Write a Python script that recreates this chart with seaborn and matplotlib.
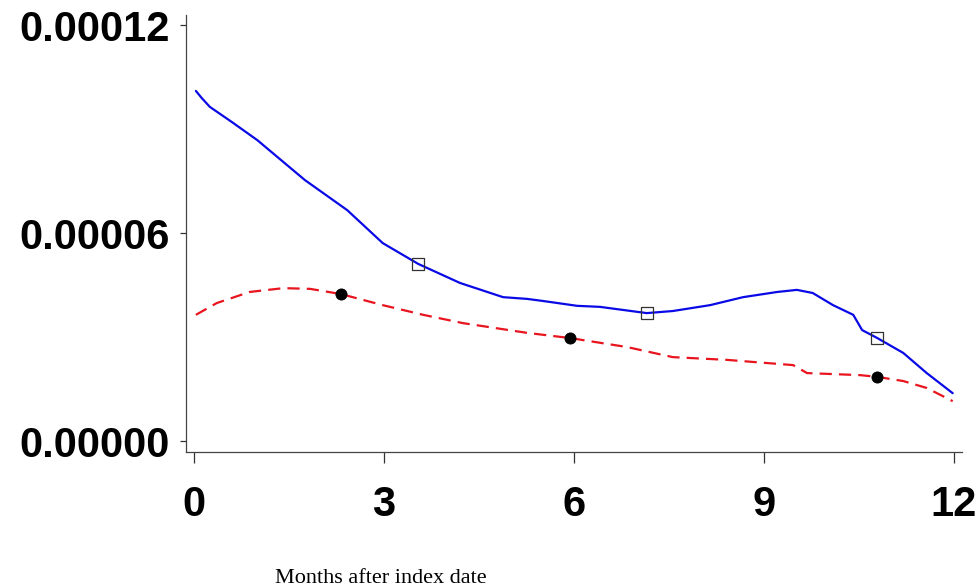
import matplotlib
matplotlib.use('Agg')
import matplotlib.pyplot as plt
import seaborn as sns
import numpy as np

# Curve values (months, rate)
blue_months = [0.03, 0.12, 0.25, 0.6, 1.0, 1.75, 2.42, 2.98, 3.54, 4.20, 4.88, 5.26, 5.51, 6.05,
               6.41, 7.15, 7.56, 8.15, 8.67, 9.21, 9.52, 9.77, 10.09, 10.41, 10.55,
               10.79, 11.20, 11.57, 11.98]
blue_vals = [10.10, 9.90, 9.64, 9.20, 8.68, 7.53, 6.66, 5.71, 5.11, 4.56, 4.15, 4.10, 4.04, 3.90,
             3.87, 3.69, 3.75, 3.92, 4.15, 4.30, 4.36, 4.27, 3.92, 3.64, 3.20,
             2.97, 2.54, 1.96, 1.38]

red_months = [0.03, 0.36, 0.88, 1.41, 1.83, 2.32, 2.98, 3.62, 4.25, 5.26, 5.94, 6.84,
              7.56, 8.42, 9.46, 9.68, 10.52, 10.79, 11.20, 11.57, 11.98]
red_vals = [3.64, 3.98, 4.30, 4.41, 4.39, 4.24, 3.92, 3.64, 3.40, 3.12, 2.97, 2.71,
            2.42, 2.34, 2.19, 1.96, 1.90, 1.85, 1.73, 1.53, 1.15]

# marker positions on each curve
blue_mark_months = [3.54, 7.15, 10.79]
blue_mark_vals = [5.11, 3.69, 2.97]
red_mark_months = [2.32, 5.94, 10.79]
red_mark_vals = [4.24, 2.97, 1.85]

x_ticks = [0, 3, 6, 9, 12]
y_ticks = [0, 0.00006, 0.00012]
y_tick_labels = ['0.00000', '0.00006', '0.00012']

scale = 1e-5
blue_y = np.array(blue_vals) * scale
red_y = np.array(red_vals) * scale

sns.set_style('ticks')
plt.rcParams['font.family'] = ['Liberation Sans', 'DejaVu Sans']

fig = plt.figure(figsize=(9.76, 5.87), dpi=100)
ax = fig.add_axes([186 / 976, (587 - 452) / 587, (962 - 186) / 976, (452 - 15) / 587])

sns.lineplot(x=blue_months, y=blue_y, ax=ax, color='#0a0ae6', linewidth=1.6)
sns.lineplot(x=red_months, y=red_y, ax=ax, color='#e8141e', linewidth=1.6,
             linestyle=(0, (5.5, 3.2)))
sns.scatterplot(x=blue_mark_months, y=np.array(blue_mark_vals) * scale, ax=ax,
                marker='s', s=75, facecolor='none', edgecolor='#333333', linewidth=0.9,
                zorder=5)
sns.scatterplot(x=red_mark_months, y=np.array(red_mark_vals) * scale, ax=ax,
                marker='o', s=64, color='black', edgecolor='black', zorder=5)

ax.set_xlim(-0.126, 12.127)
ax.set_ylim(-3.17e-6, 1.229e-4)
ax.set_xticks(x_ticks)
ax.set_xticklabels([str(t) for t in x_ticks])
ax.set_yticks(y_ticks)
ax.set_yticklabels(y_tick_labels)

for lab in ax.get_xticklabels() + ax.get_yticklabels():
    lab.set_fontweight('bold')
    lab.set_fontsize(30)
    lab.set_color('black')

ax.tick_params(axis='x', length=8, width=0.9, pad=16, color='#333333')
ax.tick_params(axis='y', length=4.5, width=0.9, pad=7, color='#333333')

sns.despine(ax=ax)
for sp in ['left', 'bottom']:
    ax.spines[sp].set_color('#444444')
    ax.spines[sp].set_linewidth(0.9)

ax.set_xlabel('Months after index date', fontfamily='Liberation Serif', fontsize=16,
              color='black')
ax.xaxis.set_label_coords(0.251, (452 - 583) / (452 - 15))
ax.xaxis.label.set_va('baseline')
ax.set_ylabel('')

fig.savefig('out.png', dpi=100)
